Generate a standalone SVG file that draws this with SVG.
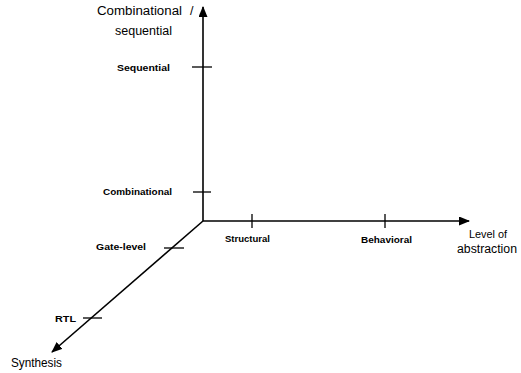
<svg xmlns="http://www.w3.org/2000/svg" width="521" height="373" viewBox="0 0 521 373">
<style>
.ax{stroke:#000;stroke-width:1.6;fill:none}
.tk{stroke:#000;stroke-width:1.3}
.big{font-family:"Liberation Sans",Arial,sans-serif;font-size:12.5px;fill:#000}
.sm{font-family:"Liberation Sans",Arial,sans-serif;font-size:9px;font-weight:bold;fill:#000}
</style>
<defs>
<marker id="ah" markerWidth="11" markerHeight="9" refX="10" refY="4.5" orient="auto" markerUnits="userSpaceOnUse">
<path d="M0,0 L11,4.5 L0,9 Z" fill="#000"/>
</marker>
</defs>
<rect width="521" height="373" fill="#fff"/>
<g id="connectors">
<line class="ax" x1="203" y1="221" x2="203" y2="7" marker-end="url(#ah)"/>
<line class="ax" x1="203" y1="221" x2="469" y2="221" marker-end="url(#ah)"/>
<line class="ax" x1="203" y1="221" x2="52" y2="352" marker-end="url(#ah)"/>
</g>
<g id="ticks">
<line class="tk" x1="192" y1="67" x2="212" y2="67"/>
<line class="tk" x1="193" y1="192" x2="211" y2="192"/>
<line class="tk" x1="252" y1="214" x2="252" y2="228"/>
<line class="tk" x1="385" y1="214" x2="385" y2="228"/>
<line class="tk" x1="164" y1="248" x2="184" y2="248"/>
<line class="tk" x1="83" y1="318" x2="102" y2="318"/>
</g>
<g id="node-vertical-title">
<text class="big" x="97" y="15" textLength="85" lengthAdjust="spacingAndGlyphs">Combinational</text>
<text class="big" x="190" y="15">/</text>
<text class="big" x="115" y="35" textLength="57" lengthAdjust="spacingAndGlyphs">sequential</text>
</g>
<g id="node-sequential"><text class="sm" x="117" y="71" textLength="53" lengthAdjust="spacingAndGlyphs">Sequential</text></g>
<g id="node-combinational"><text class="sm" x="103" y="195" textLength="69" lengthAdjust="spacingAndGlyphs">Combinational</text></g>
<g id="node-gate-level"><text class="sm" x="96" y="250" textLength="50" lengthAdjust="spacingAndGlyphs">Gate-level</text></g>
<g id="node-rtl"><text class="sm" x="55" y="322" textLength="21" lengthAdjust="spacingAndGlyphs">RTL</text></g>
<g id="node-synthesis"><text class="big" x="11" y="367" textLength="51" lengthAdjust="spacingAndGlyphs">Synthesis</text></g>
<g id="node-structural"><text class="sm" x="225" y="242" textLength="45" lengthAdjust="spacingAndGlyphs">Structural</text></g>
<g id="node-behavioral"><text class="sm" x="361" y="243" textLength="51" lengthAdjust="spacingAndGlyphs">Behavioral</text></g>
<g id="node-level"><text class="big" x="469" y="238" style="font-size:11.5px" textLength="38" lengthAdjust="spacingAndGlyphs">Level of</text><text class="big" x="457" y="253" textLength="60" lengthAdjust="spacingAndGlyphs">abstraction</text></g>
</svg>
